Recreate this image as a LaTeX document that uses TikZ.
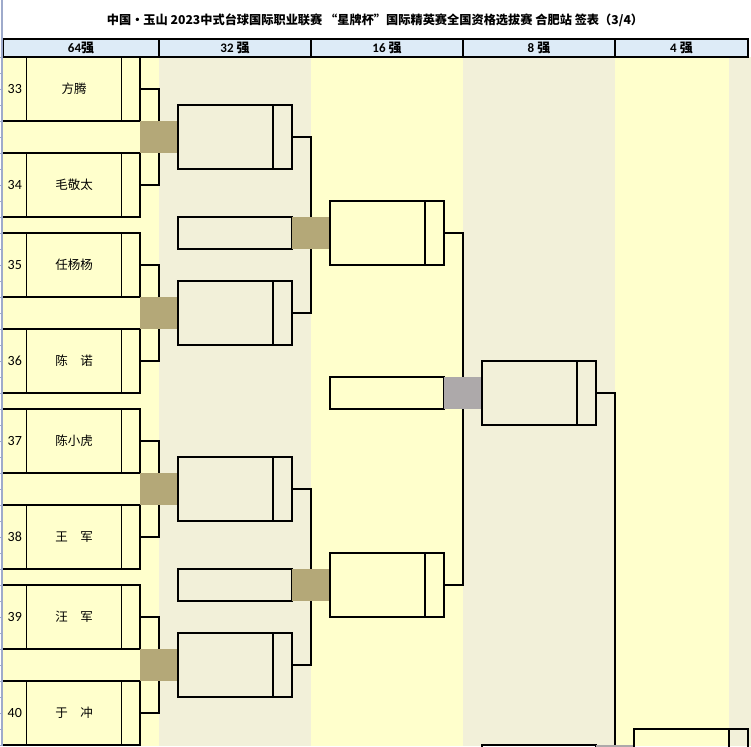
\documentclass[tikz,border=0pt]{standalone}
\usepackage{fontspec}
\setmainfont{Carlito}
\newfontfamily\cjk{Noto Sans CJK SC}
\definecolor{cellyellow}{HTML}{FFFFCC}
\definecolor{cellbeige}{HTML}{F2F0D9}
\definecolor{headblue}{HTML}{DDEBF7}
\definecolor{jointtan}{HTML}{B4A878}
\definecolor{jointgrey}{HTML}{ADA9AA}
\definecolor{sheetline}{HTML}{9EAACB}

\tikzset{
  box/.style={draw, line width=1.2pt, inner sep=0pt, outer sep=0pt, anchor=north west},
  namecell/.style={box, minimum width=95pt, minimum height=64pt, font=\cjk\fontsize{12.5}{14}\selectfont},
  scorecell/.style={box, minimum width=18.5pt, minimum height=64pt},
  numcell/.style={inner sep=0pt, outer sep=0pt, anchor=north west, minimum width=23.5pt, minimum height=64pt, font=\fontsize{14}{16}\selectfont},
  winbox/.style={box, minimum width=95pt, minimum height=64pt},
  winscore/.style={box, minimum width=19pt, minimum height=64pt},
  slot/.style={box, minimum width=114pt, minimum height=32pt},
  joint/.style={fill=#1, inner sep=0pt, outer sep=0pt, anchor=north west, minimum width=38pt, minimum height=32pt},
  link/.style={line width=1.2pt},
  headcell/.style={box, fill=headblue, minimum height=18pt, font=\bfseries\fontsize{13}{15}\selectfont},
}

\begin{document}
\begin{tikzpicture}[x=1pt,y=-1pt]
  \useasboundingbox (0,0) rectangle (751,746);
  \clip (0,0) rectangle (751,746);
  % column backgrounds
  \fill[cellyellow] (3,57) rectangle (159,746);
  \fill[cellbeige] (159,57) rectangle (311,746);
  \fill[cellyellow] (311,57) rectangle (463,746);
  \fill[cellbeige] (463,57) rectangle (615,746);
  \fill[cellyellow] (615,57) rectangle (729,746);
  \fill[cellbeige] (729,57) rectangle (751,746);

  \node[font=\cjk\bfseries\fontsize{12.2}{14}\selectfont] (title) at (375,20)
    {中国·玉山 2023中式台球国际职业联赛 “星牌杯”国际精英赛全国资格选拔赛 合肥站 签表（3/4）};

  % header row
  \node[headcell, minimum width=156pt] (h64) at (3,39) {64{\cjk 强}};
  \node[headcell, minimum width=152pt] (h32) at (159,39) {32 {\cjk 强}};
  \node[headcell, minimum width=152pt] (h16) at (311,39) {16 {\cjk 强}};
  \node[headcell, minimum width=152pt] (h8) at (463,39) {8 {\cjk 强}};
  \node[headcell, minimum width=133pt] (h4) at (615,39) {4 {\cjk 强}};

  % round of 64
  \foreach \i/\t/\pa/\na/\pb/\nb in {1/57/33/方腾/34/毛敬太, 2/233/35/任杨杨/36/陈　诺,
                                     3/409/37/陈小虎/38/王　军, 4/585/39/汪　军/40/于　冲}{
    \pgfmathsetmacro\tb{\t+96}
    \pgfmathsetmacro\tj{\t+64}
    \pgfmathsetmacro\tw{\t+48}
    \node[numcell] (n\pa) at (3,\t) {\pa};
    \node[namecell] (p\pa) at (26.5,\t) {\na};
    \node[scorecell] (c\pa) at (121.5,\t) {};
    \node[numcell] (n\pb) at (3,\tb) {\pb};
    \node[namecell] (p\pb) at (26.5,\tb) {\nb};
    \node[scorecell] (c\pb) at (121.5,\tb) {};
    \draw[link] (n\pa.north west) -- (n\pa.north east) (n\pa.south west) -- (n\pa.south east);
    \draw[link] (n\pb.north west) -- (n\pb.north east) (n\pb.south west) -- (n\pb.south east);
    \node[joint=jointtan] (j\i) at (140,\tj) {};
    \node[winbox] (w\i) at (178,\tw) {};
    \node[winscore] (w\i s) at (273,\tw) {};
    \draw[link] (c\pa.east) -| (j\i.north);
    \draw[link] (c\pb.east) -| (j\i.south);
  }

  % round of 32
  \foreach \i/\t/\a/\b in {1/57/1/2, 2/409/3/4}{
    \pgfmathsetmacro\ts{\t+160}
    \pgfmathsetmacro\tv{\t+144}
    \node[slot] (s\i) at (178,\ts) {};
    \node[joint=jointtan] (k\i) at (292,\ts) {};
    \node[winbox] (v\i) at (330,\tv) {};
    \node[winscore] (v\i s) at (425,\tv) {};
    \draw[link] (w\a s.east) -| (k\i.north);
    \draw[link] (w\b s.east) -| (k\i.south);
  }

  % round of 16
  \node[slot] (u1) at (330,377) {};
  \node[joint=jointgrey] (g1) at (444,377) {};
  \node[winbox] (e1) at (482,361) {};
  \node[winscore] (e1s) at (577,361) {};
  \draw[link] (v1s.east) -| (g1.north);
  \draw[link] (v2s.east) -| (g1.south);

  % quarter final
  \node[slot] (f1) at (482,745) {};
  \node[joint=jointgrey] (g2) at (596,745) {};
  \node[winbox] (q1) at (634,729) {};
  \node[winscore] (q1s) at (729,729) {};
  \draw[link] (e1s.east) -| (g2.north);

  % sheet edge
  \draw[sheetline, line width=1.2pt] (2,0) -- (2,746);
  \foreach \y in {57,73,...,745}
    \draw[sheetline, line width=0.6pt] (0,\y) -- (2,\y);
\end{tikzpicture}
\end{document}
